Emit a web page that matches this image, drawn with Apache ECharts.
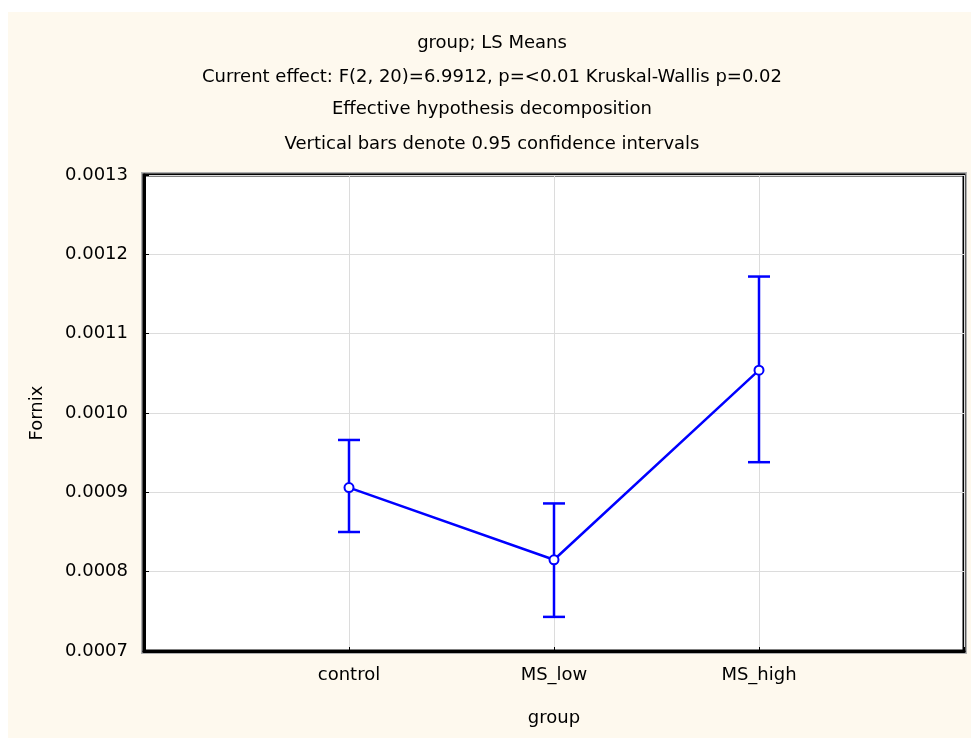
<!DOCTYPE html>
<html>
<head>
<meta charset="utf-8">
<script src="https://cdn.jsdelivr.net/npm/echarts@6/dist/echarts.min.js"></script>
<style>
  html, body { margin: 0; padding: 0; background: #fff; }
  #chart { width: 973px; height: 738px; }
</style>
</head>
<body>
<div id="chart"></div>
<script>
// data
var groups = ['control', 'MS_low', 'MS_high'];
var means  = [0.000906, 0.000815, 0.001054];
var upper  = [0.000966, 0.000886, 0.001172];
var lower  = [0.000850, 0.000743, 0.000938];
var yTicks = [0.0007, 0.0008, 0.0009, 0.0010, 0.0011, 0.0012, 0.0013];

var titles = [
  'group; LS Means',
  'Current effect: F(2, 20)=6.9912, p=<0.01 Kruskal-Wallis p=0.02',
  'Effective hypothesis decomposition',
  'Vertical bars denote 0.95 confidence intervals'
];
var titleTops = [29, 63, 95, 130];

var FONT = '"DejaVu Sans", Arial, sans-serif';
var BLUE = '#0000ff';

var chart = echarts.init(document.getElementById('chart'));

var titleList = titles.map(function (t, i) {
  return {
    text: t,
    left: 487,
    textAlign: 'center',
    top: titleTops[i],
    textStyle: { fontFamily: FONT, fontSize: 18, fontWeight: 'normal', color: '#000' }
  };
});

var option = {
  animation: false,
  backgroundColor: '#fff',
  graphic: [{
    type: 'rect', z: -10, silent: true,
    shape: { x: 8, y: 12, width: 963, height: 726 },
    style: { fill: '#fef9ee' }
  }, {
    // grey drop shadow of the plot frame
    type: 'rect', z: -5, silent: true,
    shape: { x: 142, y: 173, width: 824, height: 480 },
    style: { fill: 'none', stroke: '#b0b0b0', lineWidth: 2 }
  }],
  title: titleList,
  grid: {
    left: 144, top: 175, right: 9, bottom: 87,
    show: true, backgroundColor: '#fff', borderColor: '#000', borderWidth: 3
  },
  xAxis: {
    type: 'value', min: 0, max: 4, interval: 1,
    name: 'group', nameLocation: 'middle', nameGap: 58,
    nameTextStyle: { fontFamily: FONT, fontSize: 18, color: '#000' },
    axisLine: { show: true, onZero: false, lineStyle: { color: '#000', width: 3 } },
    axisTick: { show: true, inside: true, length: 4, lineStyle: { color: '#000' } },
    axisLabel: {
      fontFamily: FONT, fontSize: 18, color: '#000', margin: 15,
      formatter: function (v) { return groups[v - 1] || ''; }
    },
    splitLine: { show: true, lineStyle: { color: '#dcdcdc', width: 1 } }
  },
  yAxis: {
    type: 'value', min: yTicks[0], max: yTicks[yTicks.length - 1], interval: 0.0001,
    name: 'Fornix', nameLocation: 'middle', nameGap: 98,
    nameTextStyle: { fontFamily: FONT, fontSize: 18, color: '#000' },
    axisLine: { show: true, lineStyle: { color: '#000', width: 3 } },
    axisTick: { show: true, inside: true, length: 5, lineStyle: { color: '#000' } },
    axisLabel: {
      fontFamily: FONT, fontSize: 18, color: '#000', margin: 16,
      formatter: function (v) { return v.toFixed(4); }
    },
    splitLine: { show: true, lineStyle: { color: '#dcdcdc', width: 1 } }
  },
  series: [
    {
      type: 'custom',
      data: groups.map(function (g, i) { return [i + 1, lower[i], upper[i]]; }),
      renderItem: function (params, api) {
        var x = api.value(0);
        var lo = api.coord([x, api.value(1)]);
        var hi = api.coord([x, api.value(2)]);
        var w = 11;
        var st = { stroke: BLUE, lineWidth: 2.5, fill: null };
        return {
          type: 'group',
          children: [
            { type: 'line', shape: { x1: hi[0], y1: hi[1], x2: lo[0], y2: lo[1] }, style: st },
            { type: 'line', shape: { x1: hi[0] - w, y1: hi[1], x2: hi[0] + w, y2: hi[1] }, style: st },
            { type: 'line', shape: { x1: lo[0] - w, y1: lo[1], x2: lo[0] + w, y2: lo[1] }, style: st }
          ]
        };
      },
      z: 3
    },
    {
      type: 'line',
      data: groups.map(function (g, i) { return [i + 1, means[i]]; }),
      symbol: 'emptyCircle',
      symbolSize: 9,
      lineStyle: { color: BLUE, width: 2.5 },
      itemStyle: { color: BLUE, borderColor: BLUE, borderWidth: 2 },
      z: 4
    }
  ]
};

chart.setOption(option);
</script>
</body>
</html>
